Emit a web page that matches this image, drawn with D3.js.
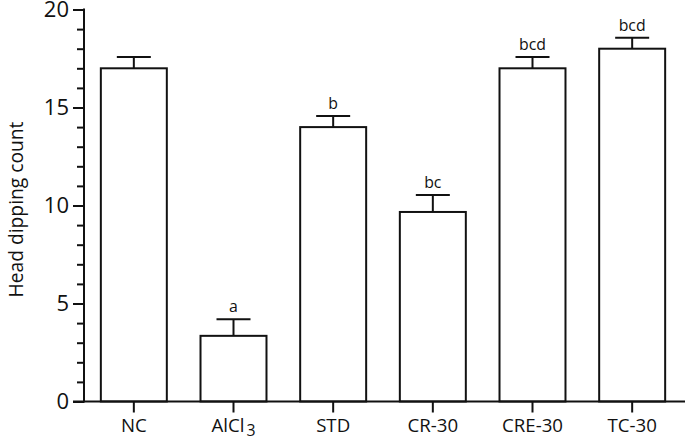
<!DOCTYPE html>
<html><head><meta charset="utf-8">
<script src="https://cdn.jsdelivr.net/npm/d3@7"></script>
<style>body{margin:0;background:#fff}</style>
</head><body>
<svg id="c" width="685" height="441"></svg>
<script>
const categories = ["NC", "AlCl3", "STD", "CR-30", "CRE-30", "TC-30"];
const means = [17.0, 3.35, 14.0, 9.67, 17.0, 18.0];
const sems = [0.58, 0.85, 0.57, 0.87, 0.58, 0.56];
const sigLetters = ["", "a", "b", "bc", "bcd", "bcd"];
const yTicks = [0, 5, 10, 15, 20];

const svg = d3.select("#c");
const font = "'Open Sans', sans-serif";
const x0 = 84, x1 = 682, yTop = 9.5, yBot = 401.5;
const p = 0.338;
const x = d3.scaleBand().domain(categories).range([x0, x1]).paddingInner(p).paddingOuter(p / 2);
const y = d3.scaleLinear().domain([0, 20]).range([yBot, yTop]);

function fitSize(sample, target) {
  const t = svg.append("text").attr("font-family", font).attr("font-size", 100).text(sample);
  const w = t.node().getComputedTextLength();
  t.remove();
  return 100 * target / w;
}
const titleSize = fitSize("Head dipping count", 176);
const catSize = fitSize("CRE-30", 61);
const tickSize = 22;
const sigSize = fitSize("bcd", 27);

// bars
svg.append("g").selectAll("rect").data(categories).join("rect")
  .attr("x", d => x(d)).attr("width", x.bandwidth())
  .attr("y", (d, i) => y(means[i])).attr("height", (d, i) => y(0) - y(means[i]))
  .attr("fill", "#fff").attr("stroke", "#111").attr("stroke-width", 2);

// error bars
const eb = svg.append("g").attr("stroke", "#111").attr("stroke-width", 2);
categories.forEach((c, i) => {
  const cx = x(c) + x.bandwidth() / 2;
  const top = y(means[i] + sems[i]);
  eb.append("line").attr("x1", cx).attr("x2", cx).attr("y1", y(means[i])).attr("y2", top);
  eb.append("line").attr("x1", cx - 17).attr("x2", cx + 17).attr("y1", top).attr("y2", top);
  if (sigLetters[i]) {
    svg.append("text").attr("x", cx).attr("y", top - 7).attr("text-anchor", "middle")
      .attr("font-family", font).attr("font-size", sigSize).attr("fill", "#111").text(sigLetters[i]);
  }
});

// y axis
const ya = svg.append("g").attr("transform", `translate(${x0},0)`)
  .call(d3.axisLeft(y).tickValues(d3.range(0, 21, 1)).tickSize(7).tickFormat(""));
ya.select(".domain").remove();
ya.selectAll(".tick line").attr("x2", d => d % 5 === 0 ? -11 : -7).attr("stroke-width", 2).attr("stroke", "#111");
svg.append("line").attr("x1", x0).attr("x2", x0).attr("y1", yTop - 1).attr("y2", yBot + 1)
  .attr("stroke", "#111").attr("stroke-width", 2);
svg.append("g").selectAll("text").data(yTicks).join("text")
  .attr("x", 69).attr("y", d => y(d)).attr("dy", "0.36em").attr("text-anchor", "end")
  .attr("font-family", font).attr("font-size", tickSize).attr("fill", "#111").text(d => d);

// x axis
const xa = svg.append("g").attr("transform", `translate(0,${yBot})`)
  .call(d3.axisBottom(x).tickSize(11).tickFormat(""));
xa.select(".domain").attr("stroke-width", 2).attr("stroke", "#111").attr("d", `M${x0 - 11},0H${x1 + 3}`);
xa.selectAll("line").attr("stroke-width", 2).attr("stroke", "#111");
categories.forEach(c => {
  const t = svg.append("text").attr("x", x(c) + x.bandwidth() / 2).attr("y", 432)
    .attr("text-anchor", "middle").attr("font-family", font).attr("font-size", catSize).attr("fill", "#111");
  if (c === "AlCl3") {
    t.append("tspan").text("AlCl");
    t.append("tspan").attr("dx", 2).attr("dy", 4).attr("font-size", catSize * 0.85).text("3");
  } else t.text(c);
});

// y title
svg.append("text").attr("transform", `translate(16,${(yTop + yBot) / 2 + 4}) rotate(-90)`)
  .attr("text-anchor", "middle").attr("dy", "0.35em").attr("font-family", font).attr("font-size", titleSize).attr("fill", "#111")
  .text("Head dipping count");
</script>
</body></html>
